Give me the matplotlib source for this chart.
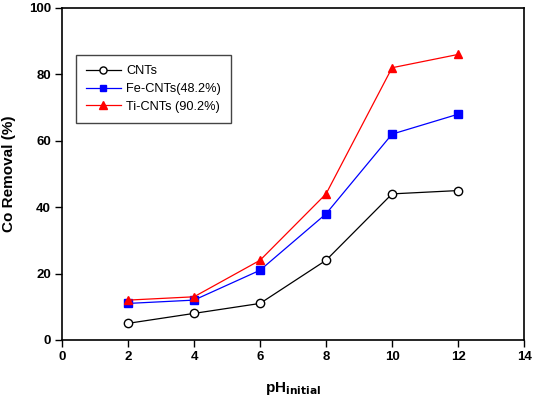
import matplotlib
matplotlib.use("Agg")
import matplotlib.pyplot as plt

plt.rcParams['font.family'] = ['Liberation Sans', 'DejaVu Sans']

ph = [2, 4, 6, 8, 10, 12]
cnts = [5, 8, 11, 24, 44, 45]
fe_cnts = [11, 12, 21, 38, 62, 68]
ti_cnts = [12, 13, 24, 44, 82, 86]
labels = ['CNTs', 'Fe-CNTs(48.2%)', 'Ti-CNTs (90.2%)']

fig = plt.figure(figsize=(5.33, 3.99), dpi=100)
ax = fig.add_axes([0.1163, 0.148, 0.867, 0.832])

ax.plot(ph, cnts, color='black', lw=0.9, marker='o', ms=6, mfc='white', mec='black', mew=1.0, label=labels[0])
ax.plot(ph, fe_cnts, color='blue', lw=0.9, marker='s', ms=5.8, mfc='blue', mec='blue', label=labels[1])
ax.plot(ph, ti_cnts, color='red', lw=0.9, marker='^', ms=6.3, mfc='red', mec='red', label=labels[2])

ax.set_xlim(0, 14)
ax.set_ylim(0, 100)
ax.set_xticks(range(0, 15, 2))
ax.set_yticks(range(0, 101, 20))
ax.tick_params(direction='out', length=5, width=1, labelsize=9.5, pad=3)
for lab in ax.get_xticklabels() + ax.get_yticklabels():
    lab.set_fontweight('bold')
for s in ax.spines.values():
    s.set_linewidth(1.2)
ax.tick_params(top=False, right=False)

ax.set_xlabel(r'pH$_{\mathbf{initial}}$', fontsize=11, fontweight='bold', labelpad=12)
ax.set_ylabel('Co Removal (%)', fontsize=11, fontweight='bold', labelpad=9)

leg = ax.legend(loc='upper left', bbox_to_anchor=(0.030, 0.858), borderaxespad=0,
                fontsize=9.2, frameon=True, fancybox=False, edgecolor='#444444',
                framealpha=1, handlelength=2.7, borderpad=0.8, labelspacing=0.45,
                handletextpad=0.45, markerscale=0.85)
leg.get_frame().set_linewidth(1.0)

fig.savefig('out.png', dpi=100)
